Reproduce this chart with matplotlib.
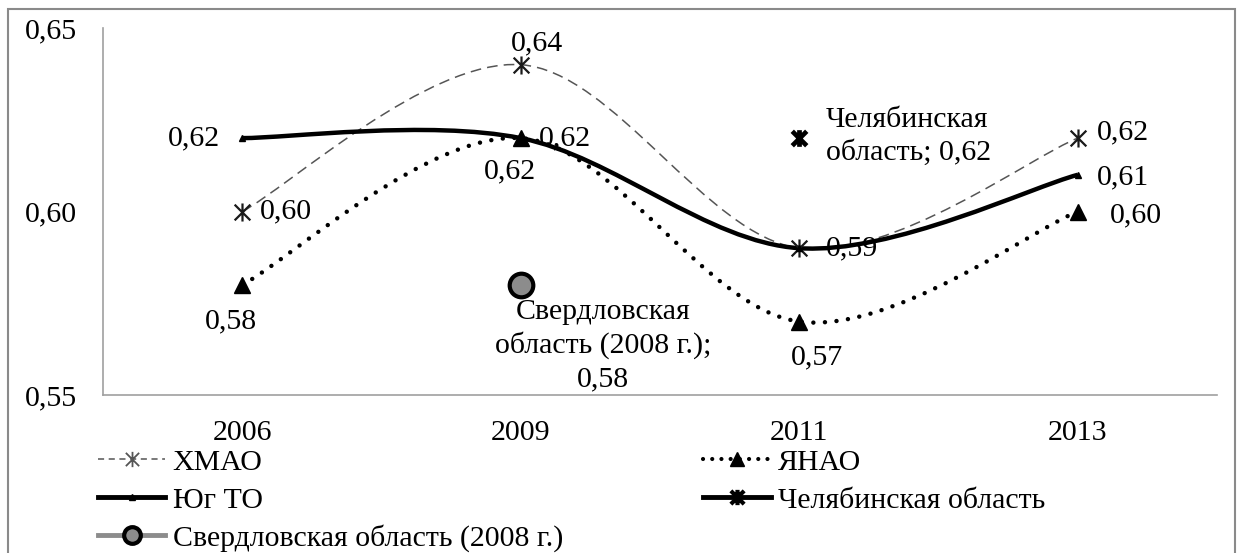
import matplotlib
matplotlib.use("Agg")
import matplotlib.pyplot as plt
from matplotlib.path import Path
from matplotlib.patches import PathPatch, Rectangle
from matplotlib.lines import Line2D
import numpy as np

plt.rcParams['font.family'] = ['Liberation Serif', 'DejaVu Serif']

years = ['2006', '2009', '2011', '2013']
hmao = [0.60, 0.64, 0.59, 0.62]
yanao = [0.58, 0.62, 0.57, 0.60]
yug_to = [0.62, 0.62, 0.59, 0.61]
chel_year = 2      # index of 2011
chel_val = 0.62
sverd_year = 1     # placed at 2009 column
sverd_val = 0.58

FS = 21.5


def smooth_path(xs, ys):
    # Excel-like smoothed line: cubic bezier segments through the points
    pts = np.column_stack([xs, ys]).astype(float)
    n = len(pts)
    verts = [pts[0]]
    codes = [Path.MOVETO]
    for i in range(n - 1):
        p0 = pts[i - 1] if i > 0 else pts[i]
        p1 = pts[i]
        p2 = pts[i + 1]
        p3 = pts[i + 2] if i + 2 < n else pts[i + 1]
        c1 = p1 + (p2 - p0) / 6.0
        c2 = p2 - (p3 - p1) / 6.0
        verts += [c1, c2, p2]
        codes += [Path.CURVE4] * 3
    return Path(verts, codes)


# Excel style "star" marker: X plus a vertical bar
star = Path([(-1, -1), (1, 1), (-1, 1), (1, -1), (0, -1.15), (0, 1.15)],
            [Path.MOVETO, Path.LINETO, Path.MOVETO, Path.LINETO, Path.MOVETO, Path.LINETO])

fig = plt.figure(figsize=(12.43, 5.53), dpi=100)
ax = fig.add_axes([103 / 1243, 1 - 395 / 553, (1217 - 103) / 1243, (395 - 28) / 553])

# outer frame
fig.patches.append(Rectangle((8 / 1243, -0.05), (1235 - 8) / 1243, 1 - 9 / 553 + 0.05,
                             transform=fig.transFigure, fill=False,
                             edgecolor='#8a8a8a', linewidth=1.5))

x = np.arange(len(years))

# lines
ax.add_patch(PathPatch(smooth_path(x, hmao), fill=False, edgecolor='#555555',
                       linewidth=1.1, linestyle=(0, (7, 4)), zorder=2))
ax.add_patch(PathPatch(smooth_path(x, yanao), fill=False, edgecolor='black',
                       linewidth=3.2, linestyle=(0, (0.01, 2.6)), capstyle='round', zorder=2))
ax.add_patch(PathPatch(smooth_path(x, yug_to), fill=False, edgecolor='black',
                       linewidth=3.2, zorder=3))

# markers
ax.plot(x, hmao, linestyle='none', marker=star, markersize=13, markeredgewidth=1.6,
        color='#1a1a1a', zorder=4)
ax.plot(x, yanao, linestyle='none', marker='^', markersize=11, color='black', zorder=4)
ax.plot(x, yug_to, linestyle='none', marker='^', markersize=5, color='black', zorder=4)
ax.plot([chel_year], [chel_val], linestyle='none', marker=star, markersize=12,
        markeredgewidth=3.4, color='black', zorder=4)
ax.plot([sverd_year], [sverd_val], linestyle='none', marker='o', markersize=17,
        markerfacecolor='#8c8c8c', markeredgecolor='black', markeredgewidth=3, zorder=4)


def lab(xi, yi, dx, dy, ha='center', va='center', text=None, ls=1.2):
    ax.annotate(text if text is not None else f'{yi:.2f}'.replace('.', ','),
                (xi, yi), xytext=(dx, dy), textcoords='offset points',
                ha=ha, va=va, fontsize=FS, linespacing=ls, zorder=5)


# ХМАО labels
lab(0, hmao[0], 13, 0, ha='left')
lab(1, hmao[1], 12, 15)
lab(2, hmao[2], 19, 0, ha='left')
lab(3, hmao[3], 14, 4, ha='left')
# ЯНАО labels
lab(0, yanao[0], -8, -26)
lab(1, yanao[1], -8, -24)
lab(2, yanao[2], 13, -26)
lab(3, yanao[3], 23, -3, ha='left')
# Юг ТО labels
lab(0, yug_to[0], -16, 0, ha='right')
lab(1, yug_to[1], 13, 0, ha='left')
lab(3, yug_to[3], 14, -2, ha='left')
# single points
lab(chel_year, chel_val, 19, 1, ha='left', text='Челябинская\nобласть; 0,62', ls=1.32)
ax.annotate('Свердловская\nобласть (2008 г.);\n0,58', (sverd_year, sverd_val),
            xytext=(59, -10), textcoords='offset points', ha='center', va='top',
            fontsize=FS, linespacing=1.32, zorder=5)

ax.set_xlim(-0.5, 3.5)
ax.set_ylim(0.55, 0.65)
ax.set_xticks(x)
ax.set_xticklabels(years, fontsize=FS)
ax.set_yticks([0.55, 0.60, 0.65])
ax.set_yticklabels(['0,55', '0,60', '0,65'], fontsize=FS)
ax.tick_params(length=0, pad=19, axis='y')
ax.tick_params(length=0, pad=18, axis='x')
for s in ['top', 'right']:
    ax.spines[s].set_visible(False)
for s in ['left', 'bottom']:
    ax.spines[s].set_color('#a0a0a0')
    ax.spines[s].set_linewidth(1.2)

handles = [
    Line2D([], [], color='#555555', linewidth=1.1, linestyle=(0, (4, 3)),
           marker=star, markersize=11, markeredgewidth=1.3),
    Line2D([], [], color='black', linewidth=3, linestyle=(0, (0.01, 2.2)),
           dash_capstyle='round', marker='^', markersize=10),
    Line2D([], [], color='black', linewidth=3.5, marker='^', markersize=5),
    Line2D([], [], color='black', linewidth=3.5, marker=star, markersize=11,
           markeredgewidth=3),
    Line2D([], [], color='#8c8c8c', linewidth=3.5, marker='o', markersize=12,
           markerfacecolor='#8c8c8c', markeredgecolor='black', markeredgewidth=3),
]
names = ['ХМАО', 'ЯНАО', 'Юг ТО', 'Челябинская область', 'Свердловская область (2008 г.)']
order = [0, 2, 4, 1, 3]
fig.legend([handles[i] for i in order], [names[i] for i in order], ncol=2,
           loc='upper left', bbox_to_anchor=(98 / 1243, 1 - 449 / 553),
           frameon=False, fontsize=FS, handlelength=2.25, handletextpad=0.25,
           columnspacing=4.7, labelspacing=0.36, borderaxespad=0, borderpad=0)

fig.savefig('out.png', dpi=100)
